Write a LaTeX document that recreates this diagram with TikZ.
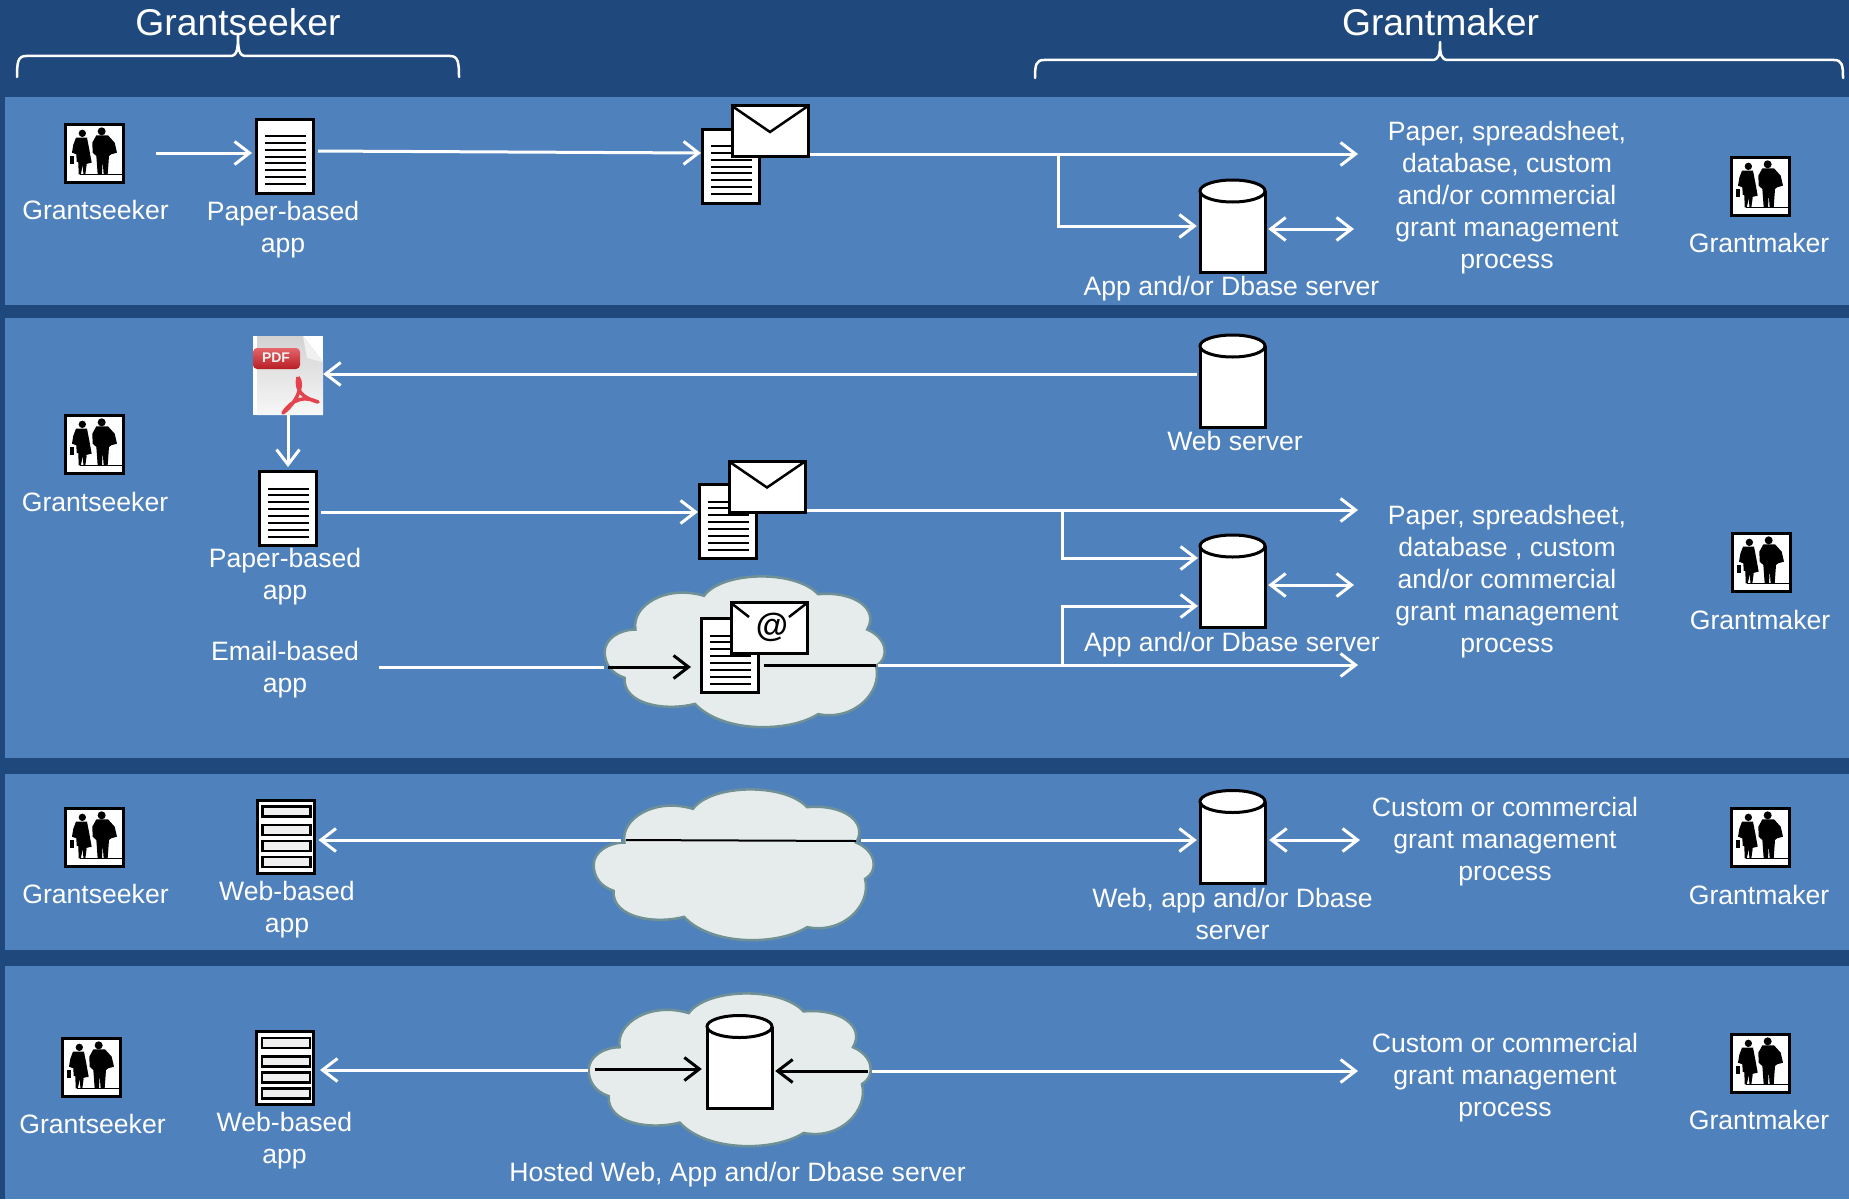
\documentclass[tikz,border=0pt]{standalone}
\usepackage{fontspec}
\setmainfont{Liberation Sans}
\usetikzlibrary{arrows.meta,calc}
\definecolor{bgdark}{HTML}{1F497D}
\definecolor{panelblue}{HTML}{4F81BD}
\definecolor{cloudfill}{HTML}{E6ECEC}
\definecolor{cloudedge}{HTML}{6F9196}
\definecolor{pdfred}{HTML}{D8232A}
\definecolor{pdfsoft}{HTML}{E4434E}
\tikzset{
  >={Straight Barb[length=15pt,width=23pt,line width=3pt]},
  panel/.style={fill=panelblue,draw=none},
  wline/.style={draw=white,line width=3pt},
  kline/.style={draw=black,line width=3pt},
  lab/.style={text=white,align=center,inner sep=0pt,font=\fontsize{26.6}{32}\selectfont},
  headlab/.style={text=white,align=center,inner sep=0pt,font=\fontsize{37.3}{42}\selectfont},
  iconbox/.style={fill=white,draw=black,line width=3pt,inner sep=0pt,rectangle},
  ghost/.style={draw=none,fill=none,inner sep=0pt,rectangle}
}
% person icon, 60 x 60
\newcommand{\PersonIcon}[3]{%
  \node[iconbox,minimum width=58pt,minimum height=58pt] (#1) at (#2,#3) {};
  \begin{scope}[shift={(#2,#3)},xscale=.3333,yscale=.3333]
    \fill[black] (-35,-59) circle[radius=11];
    \fill[black] (23,-65) circle[radius=12];
    \fill[black] (-54,-46) -- (-21,-46) -- (-14,-10) -- (-7,29) -- (-24,33) -- (-22,35) -- (-26,64) -- (-32,64) -- (-33,36) -- (-40,64) -- (-46,64) -- (-47,28) -- (-52,26) -- (-53,4) -- (-66,-1) -- (-62,-25) -- cycle;
    \fill[black] (-71,9) rectangle (-59,34);
    \fill[black] (7,-53) -- (42,-53) -- (62,-31) -- (69,-1) -- (51,4) -- (45,9) -- (41,64) -- (29,64) -- (26,24) -- (24,64) -- (11,64) -- (7,9) -- (-4,-1) -- (-5,-31) -- cycle;
    \fill[black] (-42,62) rectangle (86,65);
  \end{scope}}
% paper document with text lines
\newcommand{\DocIcon}[3]{%
  \node[iconbox,minimum width=57pt,minimum height=74pt] (#1) at (#2,#3) {};
  \begin{scope}[shift={(#2,#3)}]
    \foreach \k in {0,...,7} {\fill[black] (-20.5,-21+6.86*\k) rectangle (20.5,-19+6.86*\k);}
  \end{scope}}
% envelope
\newcommand{\MailIcon}[3]{%
  \node[iconbox,minimum width=76pt,minimum height=51pt] (#1) at (#2,#3) {};
  \begin{scope}[shift={(#2,#3)}]
    \draw[black,line width=2.5pt] (-38,-25) -- (0,1) -- (38,-25);
  \end{scope}}
% envelope with at sign
\newcommand{\AtMailIcon}[3]{%
  \node[iconbox,minimum width=76pt,minimum height=51pt] (#1) at (#2,#3) {};
  \begin{scope}[shift={(#2,#3)}]
    \draw[black,line width=2.5pt] (-38,-25) -- (-20,-11);
    \draw[black,line width=2.5pt] (38,-25) -- (20,-11);
    \node[inner sep=0pt,text=black,font=\fontsize{33}{36}\selectfont\bfseries] at (3,-1) {@};
  \end{scope}}
% cylinder
\newcommand{\CylIcon}[3]{%
  \node[ghost,minimum width=65pt,minimum height=93pt] (#1) at (#2,#3) {};
  \begin{scope}[shift={(#2,#3)}]
    \draw[fill=white,draw=black,line width=3pt] (-32.5,-35) -- (-32.5,46.5) -- (32.5,46.5) -- (32.5,-35);
    \draw[fill=white,draw=black,line width=3pt] (0,-35) ellipse[x radius=32.5,y radius=11];
  \end{scope}}
% web form
\newcommand{\FormIcon}[3]{%
  \node[iconbox,minimum width=57pt,minimum height=73pt] (#1) at (#2,#3) {};
  \begin{scope}[shift={(#2,#3)}]
    \draw[black,line width=2.5pt,fill=gray!12] (-23,-30) rectangle (25,-20);
    \draw[black,line width=2.5pt,fill=gray!12] (-23,-11.5) rectangle (25,-1.5);
    \draw[black,line width=2.5pt,fill=gray!12] (-23,4.5) rectangle (25,14.5);
    \draw[black,line width=2.5pt,fill=gray!12] (-23,20.5) rectangle (25,30.5);
  \end{scope}}
% cloud, bounding box given by name, left, top, width, height
\newcommand{\CloudIcon}[5]{%
  \node[ghost,minimum width=#4pt,minimum height=#5pt,anchor=north west] (#1) at (#2,#3) {};
  \begin{scope}[shift={(#2,#3)},xscale=#4/852,yscale=#5/457,shift={(-83,-100)}]
    \draw[fill=cloudfill,draw=cloudedge,line width=2.5pt]
      (85,330) .. controls (85,290) and (130,262) .. (178,262)
      .. controls (165,190) and (270,125) .. (385,160)
      .. controls (440,85) and (660,80) .. (730,155)
      .. controls (840,145) and (915,200) .. (878,262)
      .. controls (935,285) and (950,345) .. (905,372)
      .. controls (925,450) and (840,540) .. (730,518)
      .. controls (640,575) and (440,575) .. (358,487)
      .. controls (270,510) and (140,490) .. (145,408)
      .. controls (105,395) and (85,365) .. (85,330) -- cycle;
  \end{scope}}
% pdf file
\newcommand{\PdfIcon}[3]{%
  \node[ghost,minimum width=70pt,minimum height=79pt,fill=white] (#1) at (#2,#3) {};
  \begin{scope}[shift={(#2,#3)},shift={(-35,-39.5)}]
    \path[top color=gray!35,bottom color=gray!6] (4,0) -- (50,0) -- (70,26) -- (70,79) -- (4,79) -- cycle;
    \path[fill=gray!12] (50,0) -- (70,26) -- (54,22) -- cycle;
    \path[top color=pdfred!70!white,bottom color=pdfred!85!black,rounded corners=4pt] (0,12) rectangle (47,33);
    \node[inner sep=0pt,text=white!88!gray,font=\fontsize{14}{15}\selectfont\bfseries] at (23,22) {PDF};
    \draw[pdfsoft,line width=3.5pt,line join=round] (45,41) .. controls (42,55) and (50,62) .. (65,66) .. controls (52,60) and (40,62) .. (30,77) .. controls (42,68) and (52,50) .. (45,41);
  \end{scope}}
\begin{document}
\begin{tikzpicture}[x=1pt,y=-1pt]
\useasboundingbox (0,0) rectangle (1849,1199);
\fill[bgdark] (0,0) rectangle (1849,1199);
\fill[panel] (5,97) rectangle (1849,305);
\fill[panel] (5,318) rectangle (1849,758);
\fill[panel] (5,774) rectangle (1849,950);
\fill[panel] (5,966) rectangle (1849,1199);

% headers
\node[headlab] (hs) at (238,22) {Grantseeker};
\node[headlab] (hm) at (1440.5,22) {Grantmaker};
\coordinate (hsL) at (17,77); \coordinate (hsR) at (459,77); \coordinate (hsT) at (238,35);
\coordinate (hmL) at (1035,78); \coordinate (hmR) at (1843,78); \coordinate (hmT) at (1440,42);
\draw[white,line width=2.5pt,line cap=round,line join=round]
  (hsL) .. controls (17,62) and (18,56) .. (26,56) -- (230,56) .. controls (237,56) and (238,50) .. (hsT)
  .. controls (238,50) and (239,56) .. (246,56) -- (450,56) .. controls (458,56) and (459,62) .. (hsR);
\draw[white,line width=2.5pt,line cap=round,line join=round]
  (hmL) .. controls (1035,65) and (1036,60) .. (1044,60) -- (1432,60) .. controls (1439,60) and (1440,54) .. (hmT)
  .. controls (1440,54) and (1441,60) .. (1448,60) -- (1834,60) .. controls (1842,60) and (1843,65) .. (hmR);

% clouds
\CloudIcon{cl2}{604}{576}{282}{151}
\CloudIcon{cl3}{593}{789}{282}{151}
\CloudIcon{cl4}{588}{993}{284}{153}

% row 1
\PersonIcon{p1}{94}{153}
\DocIcon{d1}{285}{156}
\DocIcon{md1}{731}{166}
\MailIcon{m1}{770}{131}
\CylIcon{c1}{1232.5}{226}
\PersonIcon{q1}{1760}{186}
\node[lab] (lp1) at (95.5,210) {Grantseeker};
\node[lab] (ld1) at (283,229.5) {Paper-based\\app};
\node[lab] (lc1) at (1231.5,289) {App and/or Dbase server};
\node[lab] (lt1) at (1507,197.5) {Paper, spreadsheet,\\database, custom\\and/or commercial\\grant management\\process};
\node[lab] (lq1) at (1759,243) {Grantmaker};
\coordinate (e1) at (1358,154);
\coordinate (b1) at (1058,154);
\coordinate (e1b) at (1354,229);
\draw[wline,->,shorten <=31pt,shorten >=3pt] (p1.east) -- (p1.east -| d1.west);
\draw[wline,->,shorten <=3pt] ($(d1.east)+(0,-5)$) -- ($(md1.west)+(0,-13)$);
\draw[wline,->] (m1.east |- e1) -- (e1);
\draw[wline,->,shorten >=3pt] (b1) |- (c1.west);
\draw[wline,<->,shorten <=3pt] (c1.east) ++(0,3) -- (e1b);

% row 2
\PersonIcon{p2}{94}{444}
\PdfIcon{pdf}{288}{375.5}
\DocIcon{d2}{288}{508.5}
\DocIcon{md2}{728}{521.5}
\MailIcon{m2}{767}{486.5}
\DocIcon{md3}{730}{655.5}
\AtMailIcon{m3}{769}{628}
\CylIcon{c2w}{1232.5}{381}
\CylIcon{c2}{1232.5}{581}
\PersonIcon{q2}{1761}{562}
\node[lab] (lp2) at (95,501.5) {Grantseeker};
\node[lab] (lw2) at (1235,441) {Web server};
\node[lab] (ld2) at (285,577) {Paper-based\\app};
\node[lab] (le2) at (285,669.5) {Email-based\\app};
\node[lab] (lc2) at (1232,644.5) {App and/or Dbase server};
\node[lab] (lt2) at (1507,582) {Paper, spreadsheet,\\database , custom\\and/or commercial\\grant management\\process};
\node[lab] (lq2) at (1760,620) {Grantmaker};
\coordinate (e2) at (1358,510);
\coordinate (e3) at (1358,665);
\coordinate (b2) at (1062,512);
\coordinate (b3) at (1062,665);
\coordinate (c2a) at (1198,558);
\coordinate (c2b) at (1198,606);
\coordinate (e2b) at (1354,585);
\coordinate (s3) at (379,667);
\coordinate (k3a) at (608,667);
\coordinate (w3a) at (878,665);
\coordinate (k3b) at (876,665);
\draw[wline,->,shorten <=3pt] (c2w.west |- 0,374) -- (pdf.east |- 0,374);
\draw[wline,->,shorten >=3pt] (pdf.south) -- (d2.north);
\draw[wline,->,shorten <=3pt] (d2.east) ++(0,3.5) -- ($(md2.west)+(0,-9.5)$);
\draw[wline,->] (m2.east |- e2) -- (e2);
\draw[wline,->] (b2) |- (c2a);
\draw[wline,->] (b3) |- (c2b);
\draw[wline,<->,shorten <=3pt] (c2.east) ++(0,4) -- (e2b);
\draw[wline] (s3) -- (cl2.west |- s3);
\draw[kline,->,shorten >=9pt] (k3a) -- (md3.west |- k3a);
\draw[kline] (md3.east |- k3b) ++(4,0) -- (k3b);
\draw[wline,->] (w3a) -- (e3);

% row 3
\PersonIcon{p3}{94}{837}
\FormIcon{f3}{285.5}{836.5}
\CylIcon{c3}{1232.5}{836.5}
\PersonIcon{q3}{1760}{837}
\node[lab] (lp3) at (95.5,894) {Grantseeker};
\node[lab] (lf3) at (287,910) {Web-based\\app};
\node[lab] (lc3) at (1232.5,914) {Web, app and/or Dbase\\server};
\node[lab] (lt3) at (1505,841.5) {Custom or commercial\\grant management\\process};
\node[lab] (lq3) at (1759,895) {Grantmaker};
\coordinate (a3) at (621,840);
\coordinate (k3c) at (626,840);
\coordinate (k3d) at (856,841);
\coordinate (w3b) at (861,840);
\coordinate (e3b) at (1360,840);
\draw[wline,->,shorten >=3pt] (a3) -- (f3.east |- a3);
\draw[kline,line width=2pt] (k3c) -- (k3d);
\draw[wline,->,shorten >=3pt] (w3b) -- (c3.west |- w3b);
\draw[wline,<->,shorten <=4pt] (c3.east |- e3b) -- (e3b);

% row 4
\PersonIcon{p4}{91}{1067}
\FormIcon{f4}{285}{1068}
\CylIcon{c4}{739.5}{1061.5}
\PersonIcon{q4}{1760}{1063}
\node[lab] (lp4) at (92.5,1124) {Grantseeker};
\node[lab] (lf4) at (284.5,1141) {Web-based\\app};
\node[lab] (lc4) at (737.5,1175) {Hosted Web, App and/or Dbase server};
\node[lab] (lt4) at (1505,1077.5) {Custom or commercial\\grant management\\process};
\node[lab] (lq4) at (1759,1119.5) {Grantmaker};
\coordinate (a4) at (588,1070);
\coordinate (k4a) at (595,1069);
\coordinate (k4b) at (868,1071);
\coordinate (w4) at (872,1071);
\coordinate (e4) at (1358,1071);
\draw[wline,->,shorten >=5pt] (a4) -- (f4.east |- a4);
\draw[kline,->,shorten >=5pt] (k4a) -- (c4.west |- k4a);
\draw[kline,->,shorten >=3pt] (k4b) -- (c4.east |- k4b);
\draw[wline,->] (w4) -- (e4);
\end{tikzpicture}
\end{document}
